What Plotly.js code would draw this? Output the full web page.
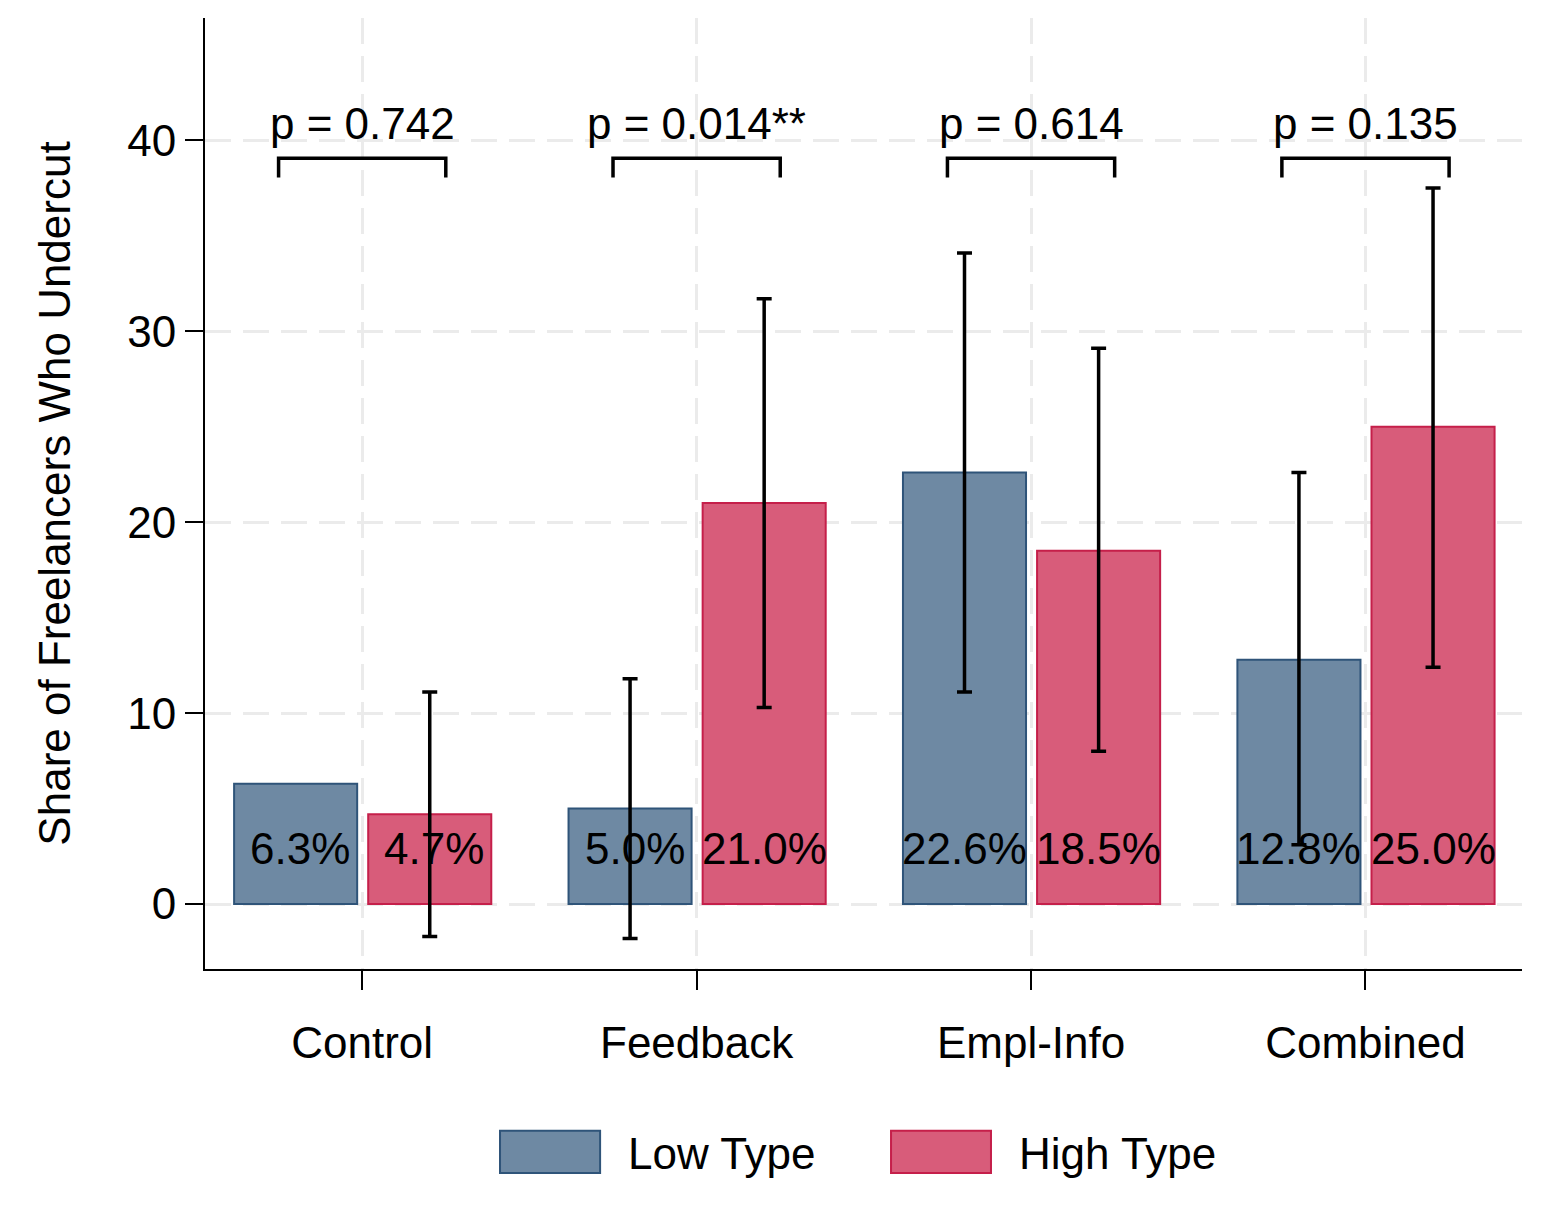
<!DOCTYPE html>
<html>
<head>
<meta charset="utf-8">
<script src="https://cdn.plot.ly/plotly-3.0.1.min.js"></script>
<style>html,body{margin:0;padding:0;background:#fff;}#chart{width:1556px;height:1226px;}</style>
</head>
<body>
<div id="chart"></div>
<script>
// ---- data ----
const categories = ['Control', 'Feedback', 'Empl-Info', 'Combined'];
const seriesNames = ['Low Type', 'High Type'];
const lowValues = [6.3, 5.0, 22.6, 12.8];
const highValues = [4.7, 21.0, 18.5, 25.0];
const lowCIUpper = [NaN, 11.8, 34.1, 22.6];
const lowCILower = [NaN, -1.8, 11.1, 3.1];
const highCIUpper = [11.1, 31.7, 29.1, 37.5];
const highCILower = [-1.7, 10.3, 8.0, 12.4];
const pLabels = ['p = 0.742', 'p = 0.014**', 'p = 0.614', 'p = 0.135'];
const yTicks = [0, 10, 20, 30, 40];

// ---- style ----
const FONT = 'Liberation Sans, Arial, Helvetica, sans-serif';
const FS = 44;
const lowFill = '#6e89a3', lowLine = '#2f5479';
const highFill = '#d85c7a', highLine = '#c51f4a';
const barWidth = 0.368;
const lowOffset = -0.383, highOffset = 0.018;
const labelY = 2.9;
const bracketTop = 39.05, bracketBottom = 38.05, bracketHalf = 0.25, pTextY = 40.85;

function labelShift(txt) { return txt.length < 5 ? 0.014 : 0; }
function errUp(vals, up) { return vals.map((v, i) => isNaN(up[i]) ? NaN : up[i] - v); }
function errDn(vals, lo) { return vals.map((v, i) => isNaN(lo[i]) ? NaN : v - lo[i]); }

const errStyle = {type: 'data', symmetric: false, color: '#000', thickness: 3.5, width: 7.5};

const traces = [
  {
    type: 'bar', name: seriesNames[0], x: categories, y: lowValues,
    width: barWidth, offset: lowOffset,
    marker: {color: lowFill, line: {color: lowLine, width: 2}},
    error_y: Object.assign({array: errUp(lowValues, lowCIUpper), arrayminus: errDn(lowValues, lowCILower)}, errStyle),
    showlegend: false, hoverinfo: 'x+y'
  },
  {
    type: 'bar', name: seriesNames[1], x: categories, y: highValues,
    width: barWidth, offset: highOffset,
    marker: {color: highFill, line: {color: highLine, width: 2}},
    error_y: Object.assign({array: errUp(highValues, highCIUpper), arrayminus: errDn(highValues, highCILower)}, errStyle),
    showlegend: false, hoverinfo: 'x+y'
  }
];

const annotations = [];
const shapes = [];
categories.forEach((c, i) => {
  const lt = lowValues[i].toFixed(1) + '%';
  const ht = highValues[i].toFixed(1) + '%';
  annotations.push({xref: 'x', yref: 'y', x: i + lowOffset + barWidth / 2 + labelShift(lt), y: labelY,
    text: lt, showarrow: false, font: {family: FONT, size: FS, color: '#000'}, yanchor: 'middle'});
  annotations.push({xref: 'x', yref: 'y', x: i + highOffset + barWidth / 2 + labelShift(ht), y: labelY,
    text: ht, showarrow: false, font: {family: FONT, size: FS, color: '#000'}, yanchor: 'middle'});
  annotations.push({xref: 'x', yref: 'y', x: i, y: pTextY, text: pLabels[i], showarrow: false,
    font: {family: FONT, size: FS, color: '#000'}, yanchor: 'middle'});
  shapes.push({type: 'path', xref: 'x', yref: 'y', layer: 'above',
    path: `M ${i - bracketHalf} ${bracketBottom} L ${i - bracketHalf} ${bracketTop} L ${i + bracketHalf} ${bracketTop} L ${i + bracketHalf} ${bracketBottom}`,
    line: {color: '#000', width: 3.5}});
});

// manual legend (large swatches)
const legendItems = [
  {x0: 0.224, x1: 0.300, tx: 0.3195, fill: lowFill, line: lowLine, text: seriesNames[0]},
  {x0: 0.5209, x1: 0.5968, tx: 0.6168, fill: highFill, line: highLine, text: seriesNames[1]}
];
legendItems.forEach(it => {
  shapes.push({type: 'rect', xref: 'paper', yref: 'paper', x0: it.x0, x1: it.x1, y0: -0.2145, y1: -0.170,
    fillcolor: it.fill, line: {color: it.line, width: 2}});
  annotations.push({xref: 'paper', yref: 'paper', x: it.tx, y: -0.1935, xanchor: 'left', yanchor: 'middle',
    text: it.text, showarrow: false, font: {family: FONT, size: FS, color: '#000'}});
});

const gridColor = '#ebebeb';
const gridDash = '26px,12px';
const layout = {
  width: 1556, height: 1226,
  margin: {l: 205, r: 34, t: 18, b: 257},
  paper_bgcolor: '#fff', plot_bgcolor: '#fff',
  font: {family: FONT, size: FS, color: '#000'},
  showlegend: false,
  xaxis: {
    type: 'category', categoryorder: 'array', categoryarray: categories,
    range: [-0.47, 3.468],
    showline: true, linecolor: '#000', linewidth: 2,
    ticks: 'outside', ticklen: 19, tickwidth: 2, tickcolor: '#000',
    showgrid: true, gridcolor: gridColor, gridwidth: 3, griddash: gridDash,
    tickfont: {family: FONT, size: FS, color: '#000'},
    ticklabelstandoff: 15,
    zeroline: false, fixedrange: true
  },
  yaxis: {
    range: [-3.4, 46.4],
    tickvals: yTicks, ticktext: yTicks.map(String),
    showline: true, linecolor: '#000', linewidth: 2,
    ticks: 'outside', ticklen: 18, tickwidth: 2, tickcolor: '#000',
    showgrid: true, gridcolor: gridColor, gridwidth: 3, griddash: gridDash,
    zeroline: false,
    tickfont: {family: FONT, size: FS, color: '#000'},
    ticklabelstandoff: 0,
    title: {text: 'Share of Freelancers Who Undercut', font: {family: FONT, size: FS, color: '#000'}, standoff: 43},
    fixedrange: true
  },
  annotations: annotations,
  shapes: shapes
};

Plotly.newPlot('chart', traces, layout, {displayModeBar: false, staticPlot: true});
</script>
</body>
</html>
